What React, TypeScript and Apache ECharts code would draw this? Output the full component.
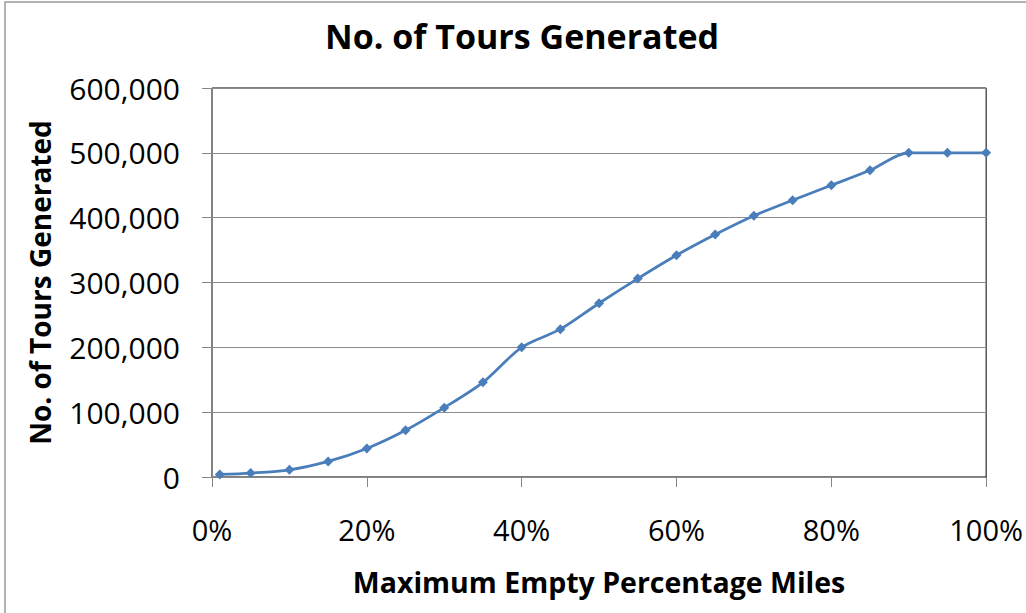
import React, { useEffect, useRef } from "react";
import * as echarts from "echarts";

const titleText = "No. of Tours Generated";
const xAxisTitle = "Maximum Empty Percentage Miles";
const yAxisTitle = "No. of Tours Generated";

const emptyPct = [0.01, 0.05, 0.1, 0.15, 0.2, 0.25, 0.3, 0.35, 0.4, 0.45, 0.5, 0.55, 0.6, 0.65, 0.7, 0.75, 0.8, 0.85, 0.9, 0.95, 1.0];
const toursGenerated = [4000, 6000, 11000, 24000, 44000, 72000, 107000, 146000, 200000, 228000, 268000, 306000, 342000, 374000, 403000, 427000, 450000, 473000, 500000, 500000, 500000];

const yMin = 0;
const yMax = 600000;
const yStep = 100000;
const xMin = 0;
const xMax = 1;
const xStep = 0.2;

const FONT = "'Open Sans', 'Noto Sans', sans-serif";

export default function App() {
  const ref = useRef<HTMLDivElement>(null);

  useEffect(() => {
    if (!ref.current) return;
    const chart = echarts.init(ref.current, null, { renderer: "svg" });
    const data = emptyPct.map((x, i) => [x, toursGenerated[i]]);
    chart.setOption({
      animation: false,
      backgroundColor: "#ffffff",
      textStyle: { fontFamily: FONT },
      title: {
        text: titleText,
        left: 320,
        top: 14,
        textStyle: { fontFamily: FONT, fontWeight: "bold", fontSize: 34, color: "#000" },
      },
      graphic: [
        {
          type: "rect",
          shape: { x: 5, y: 2, width: 1040, height: 640 },
          style: { fill: "none", stroke: "#9a9a9a", lineWidth: 1.5 },
          silent: true,
          z: -1,
        },
      ],
      grid: {
        left: 212,
        right: 39,
        top: 88,
        bottom: 136,
        show: true,
        borderColor: "#000",
        borderWidth: 1,
        containLabel: false,
      },
      xAxis: {
        type: "value",
        min: xMin,
        max: xMax,
        interval: xStep,
        name: xAxisTitle,
        nameLocation: "middle",
        nameGap: 90,
        nameTextStyle: { fontFamily: FONT, fontWeight: "bold", fontSize: 28.5, color: "#000" },
        axisLine: { show: true, onZero: false, lineStyle: { color: "#868686", width: 1 } },
        axisTick: { show: true, inside: false, length: 10, lineStyle: { color: "#868686" } },
        axisLabel: {
          fontFamily: FONT,
          fontSize: 29,
          color: "#000",
          margin: 38,
          formatter: (v: number) => `${Math.round(v * 100)}%`,
        },
        splitLine: { show: false },
      },
      yAxis: {
        type: "value",
        min: yMin,
        max: yMax,
        interval: yStep,
        name: yAxisTitle,
        nameLocation: "middle",
        nameGap: 158,
        nameRotate: 90,
        nameTextStyle: { fontFamily: FONT, fontWeight: "bold", fontSize: 28, color: "#000" },
        axisLine: { show: true, lineStyle: { color: "#868686", width: 1 } },
        axisTick: { show: true, inside: false, length: 10, lineStyle: { color: "#868686" } },
        axisLabel: {
          fontFamily: FONT,
          fontSize: 30,
          color: "#000",
          margin: 32,
          formatter: (v: number) => v.toLocaleString("en-US"),
        },
        splitLine: { show: true, lineStyle: { color: "#8c8c8c", width: 1 } },
      },
      series: [
        {
          type: "line",
          data,
          smooth: 0.3,
          symbol: "diamond",
          symbolSize: 10,
          lineStyle: { color: "#4a7ebb", width: 2.75 },
          itemStyle: { color: "#4a7ebb" },
        },
      ],
    });
    return () => chart.dispose();
  }, []);

  return (
    <div
      ref={ref}
      style={{ position: "fixed", left: 0, top: 0, width: 1026, height: 613 }}
    />
  );
}
